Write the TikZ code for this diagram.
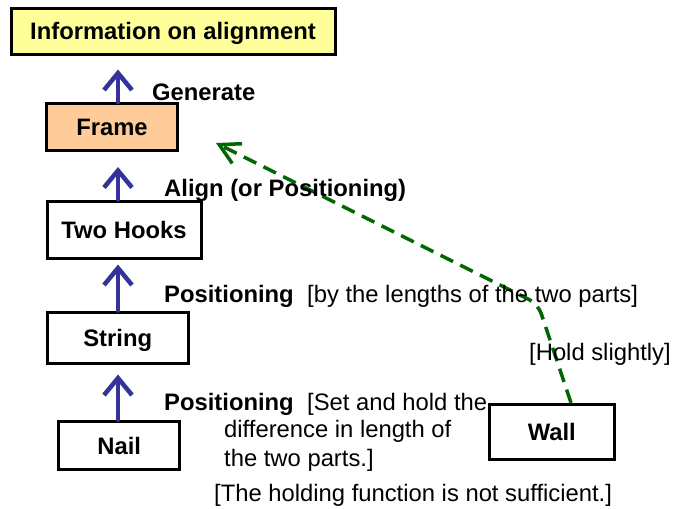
\documentclass[tikz,border=0pt]{standalone}
\usepackage{fontspec}
\setmainfont{Liberation Sans}
\usetikzlibrary{arrows.meta}
\definecolor{infofill}{RGB}{255,255,153}
\definecolor{framefill}{RGB}{255,204,153}
\definecolor{arrowblue}{RGB}{51,51,153}
\definecolor{dashgreen}{RGB}{0,102,0}
\begin{document}
\begin{tikzpicture}[x=1pt,y=-1pt,
  box/.style={draw=black, line width=3pt, inner sep=0pt, text height=17pt, text depth=0pt,
    font=\fontsize{23.8}{26}\selectfont\bfseries},
  lbl/.style={anchor=base west, inner sep=0pt, font=\fontsize{23.8}{26}\selectfont\bfseries},
  txt/.style={anchor=base west, inner sep=0pt, font=\fontsize{23.8}{26}\selectfont},
  up/.style={draw=arrowblue, line width=4.5pt, line cap=round,
    -{Straight Barb[length=17pt,width=28pt]}},
  holdline/.style={draw=dashgreen, line width=3.5pt, dash pattern=on 14pt off 8pt,
    rounded corners=10pt, -{Straight Barb[length=20pt,width=22pt]}}
]
\path[use as bounding box] (0,0) rectangle (673,509);

% boxes
\node[box, fill=infofill, minimum width=324pt, minimum height=46pt] (info) at (173,31) {Information on alignment};
\node[box, fill=framefill, minimum width=131pt, minimum height=47pt] (frame) at (112,127) {Frame};
\node[box, minimum width=154pt, minimum height=57pt] (hooks) at (124,229.5) {Two Hooks};
\node[box, minimum width=141pt, minimum height=51.5pt] (string) at (117.7,337.8) {String};
\node[box, minimum width=121pt, minimum height=48.4pt] (nail) at (119.2,445.5) {Nail};
\node[box, minimum width=125pt, minimum height=54.7pt] (wall) at (551.8,431.7) {Wall};

% arrows
\coordinate (ax) at (118,0);
\draw[up, shorten >=14pt] (frame.north -| ax) -- (info.south -| ax);
\draw[up, shorten >=15pt] (hooks.north -| ax) -- (frame.south -| ax);
\draw[up, shorten >=5pt] (string.north -| ax) -- (hooks.south -| ax);
\draw[up, shorten >=9.5pt] (nail.north -| ax) -- (string.south -| ax);

% dashed hold line
\coordinate (wx) at (571,0);
\coordinate (bend) at (538,304);
\coordinate (hooktip) at (216,143);
\draw[holdline] (wall.north -| wx) -- (bend) -- (hooktip);

% labels
\node[lbl] (gen) at (152,100) {Generate};
\node[lbl] (align) at (164,196) {Align (or Positioning)};
\node[lbl] (pos1) at (164,302) {Positioning};
\node[txt] (pos1b) at (307,302) {[by the lengths of the two parts]};
\node[txt] (hold) at (529,360) {[Hold slightly]};
\node[lbl] (pos2) at (164,410) {Positioning};
\node[txt] (pos2b) at (307,410) {[Set and hold the};
\node[txt] (pos2c) at (224,437.3) {difference in length of};
\node[txt] (pos2d) at (224,466) {the two parts.]};
\node[txt] (notsuff) at (214,501.7) {[The holding function is not sufficient.]};
\end{tikzpicture}
\end{document}
